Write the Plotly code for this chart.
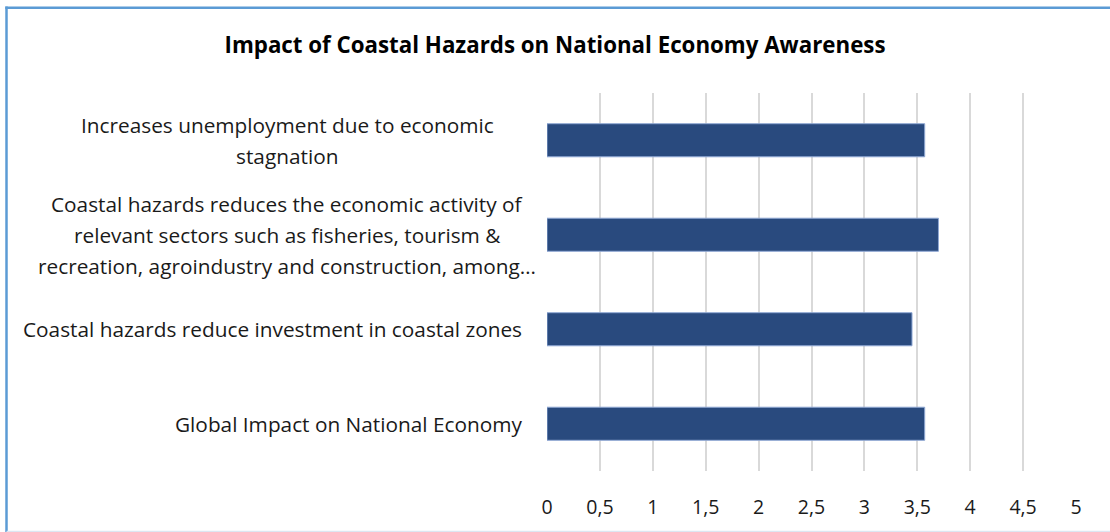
import plotly.graph_objects as go

# Survey statements (top to bottom) and their mean awareness scores
categories = [
    "Increases unemployment due to economic<br>stagnation",
    "Coastal hazards reduces the economic activity of<br>relevant sectors such as fisheries, tourism &<br>recreation, agroindustry and construction, among…",
    "Coastal hazards reduce investment in coastal zones",
    "Global Impact on National Economy",
]
scores = [3.57, 3.70, 3.45, 3.57]
tick_values = [0, 0.5, 1, 1.5, 2, 2.5, 3, 3.5, 4, 4.5, 5]
tick_labels = ["0", "0,5", "1", "1,5", "2", "2,5", "3", "3,5", "4", "4,5", "5"]

FONT = "Open Sans"
TEXT = "#1a1a1a"
LABEL_SIZE = 20.8
TICK_SIZE = 19.5
W, H = 1110, 532
L, R, T, B = 547, 34, 93, 61
pw, ph = W - L - R, H - T - B


def px_x(px):
    return (px - L) / pw


def px_y(py):
    return (H - B - py) / ph


fig = go.Figure(
    go.Bar(
        x=scores,
        y=list(range(len(categories))),
        orientation="h",
        marker=dict(color="#294A7E", line=dict(color="#8FA8D4", width=1)),
        hoverinfo="x",
    )
)

# Category labels: single lines right-aligned next to the axis,
# wrapped labels drawn line by line and centred on a common column
line_gap = 31
for i, label in enumerate(categories):
    lines = label.split("<br>")
    n = len(lines)
    for j, line in enumerate(lines):
        if n == 1:
            pos = dict(x=px_x(524), xanchor="right")
        else:
            pos = dict(x=px_x(287), xanchor="center")
        fig.add_annotation(
            xref="paper", y=i, yref="y", yanchor="middle",
            yshift=-(j - (n - 1) / 2) * line_gap,
            text=line, showarrow=False,
            font=dict(family=FONT, size=LABEL_SIZE, color=TEXT),
            **pos,
        )

# Chart-area frame
frame = "#5B9BD5"
fig.add_shape(type="line", xref="paper", yref="paper",
              x0=px_x(6.5), x1=px_x(6.5), y0=px_y(6.5), y1=px_y(540),
              line=dict(color=frame, width=2.5))
fig.add_shape(type="line", xref="paper", yref="paper",
              x0=px_x(5.3), x1=px_x(1115), y0=px_y(7.8), y1=px_y(7.8),
              line=dict(color=frame, width=2.5))
fig.add_shape(type="line", xref="paper", yref="paper",
              x0=px_x(6.5), x1=px_x(1115), y0=px_y(531.5), y1=px_y(531.5),
              line=dict(color="#DCE6F2", width=1.5))

fig.update_layout(
    width=W, height=H,
    margin=dict(l=L, r=R, t=T, b=B),
    paper_bgcolor="white", plot_bgcolor="white",
    bargap=0.65,
    showlegend=False,
    font=dict(family=FONT, size=LABEL_SIZE, color=TEXT),
    title=dict(
        text="<b>Impact of Coastal Hazards on National Economy Awareness</b>",
        x=0.5, xref="container", xanchor="center",
        y=1 - 45 / H, yref="container", yanchor="middle",
        font=dict(family=FONT, size=22.3, color="#000000"),
    ),
    xaxis=dict(
        range=[0, 5], tickvals=tick_values, ticktext=tick_labels,
        showgrid=True, gridcolor="#D9D9D9", gridwidth=1.5,
        zeroline=False, showline=False, ticks="",
        ticklabelstandoff=22,
        tickfont=dict(family=FONT, size=TICK_SIZE, color=TEXT),
    ),
    yaxis=dict(
        range=[len(categories) - 0.5, -0.5],
        showticklabels=False, showgrid=False, zeroline=False,
        showline=False, ticks="",
    ),
)

fig.write_html("out.html")
